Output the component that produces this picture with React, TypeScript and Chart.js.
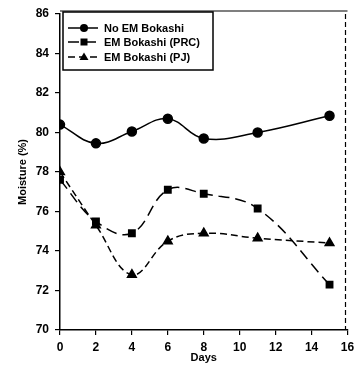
import React, { useEffect, useRef } from "react";
import { Chart, registerables } from "chart.js";

Chart.register(...registerables);

const days = [0, 2, 4, 6, 8, 11, 15];
const noEM = [80.4, 79.45, 80.05, 80.7, 79.7, 80.0, 80.85];
const emPRC = [77.6, 75.5, 74.9, 77.1, 76.9, 76.15, 72.3];
const emPJ = [78.0, 75.3, 72.8, 74.5, 74.9, 74.65, 74.4];
const seriesNames = ["No EM Bokashi", "EM Bokashi (PRC)", "EM Bokashi (PJ)"];
const xTicks = { min: 0, max: 16, step: 2 };
const yTicks = { min: 70, max: 86, step: 2 };

const FONT = "'Liberation Sans', Arial, sans-serif";

const legendPlugin = {
  id: "boxLegend",
  afterDraw(chart: any) {
    const ctx = chart.ctx;
    const area = chart.chartArea;
    ctx.save();
    ctx.strokeStyle = "#000";
    ctx.lineWidth = 1.2;
    ctx.beginPath();
    ctx.moveTo(area.left, area.top - 3);
    ctx.lineTo(area.right, area.top - 3);
    ctx.stroke();
    ctx.setLineDash([5, 3]);
    ctx.beginPath();
    ctx.moveTo(area.right - 2, area.top);
    ctx.lineTo(area.right - 2, area.bottom);
    ctx.stroke();
    ctx.setLineDash([]);

    const bx = area.left + 3;
    const by = area.top - 2;
    const bw = 150;
    const bh = 58;
    ctx.fillStyle = "#fff";
    ctx.fillRect(bx, by, bw, bh);
    ctx.lineWidth = 1.5;
    ctx.strokeRect(bx, by, bw, bh);
    const rows = [16, 30, 45];
    chart.data.datasets.forEach((ds: any, i: number) => {
      const y = by + rows[i];
      ctx.strokeStyle = "#000";
      ctx.lineWidth = 1.5;
      ctx.setLineDash(ds.borderDash || []);
      ctx.beginPath();
      ctx.moveTo(bx + 5, y);
      ctx.lineTo(bx + 35, y);
      ctx.stroke();
      ctx.setLineDash([]);
      const mx = bx + 21;
      ctx.fillStyle = "#000";
      ctx.beginPath();
      if (ds.pointStyle === "rect") {
        ctx.rect(mx - 3.5, y - 3.5, 7, 7);
      } else if (ds.pointStyle === "triangle") {
        ctx.moveTo(mx, y - 4.5);
        ctx.lineTo(mx + 4.5, y + 3);
        ctx.lineTo(mx - 4.5, y + 3);
        ctx.closePath();
      } else {
        ctx.arc(mx, y, 4, 0, Math.PI * 2);
      }
      ctx.fill();
      ctx.font = `bold 11px ${FONT}`;
      ctx.textBaseline = "middle";
      ctx.textAlign = "left";
      ctx.fillText(ds.label, bx + 41, y + 1);
    });
    ctx.restore();
  },
};

export default function App() {
  const ref = useRef<HTMLCanvasElement>(null);
  useEffect(() => {
    if (!ref.current) return;
    const mk = (vals: number[]) => days.map((d, i) => ({ x: d, y: vals[i] }));
    const common = {
      borderColor: "#000",
      backgroundColor: "#000",
      borderWidth: 1.5,
      pointBackgroundColor: "#000",
      pointBorderColor: "#000",
      tension: 0.4,
      fill: false,
    };
    const chart = new Chart(ref.current, {
      type: "line",
      data: {
        datasets: [
          { ...common, label: seriesNames[0], data: mk(noEM), pointStyle: "circle", pointRadius: 4.5 },
          { ...common, label: seriesNames[1], data: mk(emPRC), pointStyle: "rect", pointRadius: 4.5, borderDash: [11, 6] },
          { ...common, label: seriesNames[2], data: mk(emPJ), pointStyle: "triangle", pointRadius: 5, borderDash: [7, 4] },
        ],
      } as any,
      options: {
        animation: false,
        responsive: false,
        layout: { padding: { top: 14, right: 2, left: 0, bottom: 0 } },
        plugins: { legend: { display: false }, tooltip: { enabled: false } },
        scales: {
          x: {
            type: "linear",
            min: xTicks.min,
            max: xTicks.max,
            ticks: { stepSize: xTicks.step, color: "#000", font: { family: FONT, size: 12, weight: "bold" }, padding: 5, maxRotation: 0 },
            grid: { drawOnChartArea: false, tickLength: 5, tickColor: "#000", lineWidth: 1.2 },
            border: { color: "#000", width: 1.5 },
            title: { display: true, text: "Days", color: "#000", font: { family: FONT, size: 11, weight: "bold" }, padding: { top: 4, bottom: 10 } },
            afterFit(scale: any) {
              scale.height = 45;
              scale.paddingRight = 0;
              scale.paddingLeft = 0;
            },
          },
          y: {
            min: yTicks.min,
            max: yTicks.max,
            ticks: { stepSize: yTicks.step, color: "#000", font: { family: FONT, size: 12, weight: "bold" }, padding: 6 },
            grid: { drawOnChartArea: false, tickLength: 5, tickColor: "#000", lineWidth: 1.2 },
            border: { color: "#000", width: 1.5 },
            title: { display: true, text: "Moisture (%)", color: "#000", font: { family: FONT, size: 11, weight: "bold" }, padding: { top: 16, bottom: 0 } },
            afterFit(scale: any) {
              scale.width = 60;
              scale.paddingTop = 0;
              scale.paddingBottom = 0;
            },
          },
        },
      } as any,
      plugins: [legendPlugin],
    });
    return () => chart.destroy();
  }, []);
  return (
    <div style={{ position: "absolute", left: 0, top: 0, width: 354, height: 375, background: "#fff" }}>
      <canvas ref={ref} width={354} height={375} />
    </div>
  );
}
